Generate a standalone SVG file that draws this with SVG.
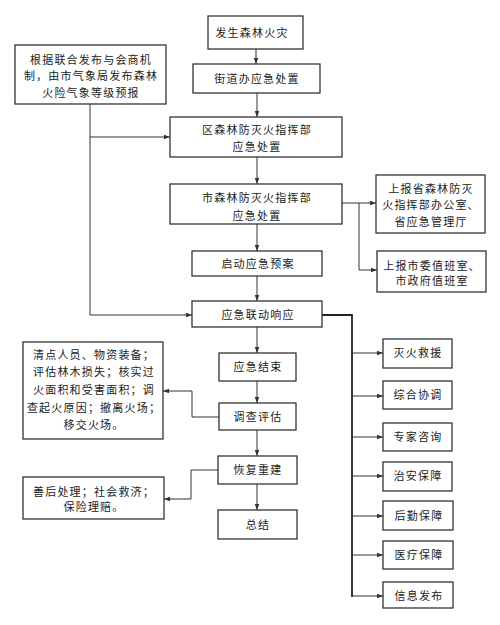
<svg xmlns="http://www.w3.org/2000/svg" width="500" height="625" viewBox="0 0 500 625">
<style>
.b{fill:#fff;stroke:#333;stroke-width:1.3}
.t{font-family:"Noto Sans CJK SC",sans-serif;font-size:11px;fill:#222;text-anchor:middle;letter-spacing:1.2px}
.c{fill:none;stroke:#333;stroke-width:1}
.k{fill:none;stroke:#222;stroke-width:1.8}
</style>
<defs>
<marker id="a" viewBox="0 0 8 8" refX="8" refY="4" markerWidth="6" markerHeight="6" orient="auto" markerUnits="userSpaceOnUse">
<path d="M0,1 L8,4 L0,7 Z" fill="#333"/>
</marker>
</defs>
<rect width="500" height="625" fill="#fff"/>
<g id="connectors">
<path class="c" d="M256,49 V64" marker-end="url(#a)"/>
<path class="c" d="M257,93 V117" marker-end="url(#a)"/>
<path class="c" d="M257,157 V184" marker-end="url(#a)"/>
<path class="c" d="M90,104 V315 H192" marker-end="url(#a)"/>
<path class="c" d="M90,137 H170" marker-end="url(#a)"/>
<path class="c" d="M342,203 H376" marker-end="url(#a)"/>
<path class="c" d="M359,203 V270 H377" marker-end="url(#a)"/>
<path class="c" d="M257,224 V251" marker-end="url(#a)"/>
<path class="c" d="M257,276 V301" marker-end="url(#a)"/>
<path class="k" d="M322,315 H352 V597"/>
<path class="c" d="M352,353 H383" marker-end="url(#a)"/>
<path class="c" d="M352,396 H383" marker-end="url(#a)"/>
<path class="c" d="M352,437 H383" marker-end="url(#a)"/>
<path class="c" d="M352,476 H383" marker-end="url(#a)"/>
<path class="c" d="M352,516 H383" marker-end="url(#a)"/>
<path class="c" d="M352,555 H383" marker-end="url(#a)"/>
<path class="c" d="M352,596 H383" marker-end="url(#a)"/>
<path class="c" d="M257,327 V353" marker-end="url(#a)"/>
<path class="c" d="M257,381 V403" marker-end="url(#a)"/>
<path class="c" d="M257,430 V456" marker-end="url(#a)"/>
<path class="c" d="M257,484 V510" marker-end="url(#a)"/>
<path class="c" d="M219,417 H192 V391 H163" marker-end="url(#a)"/>
<path class="c" d="M218,470 H191 V499 H164" marker-end="url(#a)"/>
</g>
<g id="n1"><rect class="b" x="208" y="16" width="95" height="33"/><text class="t" x="252" y="37">发生森林火灾</text></g>
<g id="n2"><rect class="b" x="193" y="64" width="127" height="29"/><text class="t" x="257" y="83">街道办应急处置</text></g>
<g id="n3"><rect class="b" x="170" y="117" width="172" height="40"/><text class="t" x="257" y="134">区森林防灭火指挥部</text><text class="t" x="257" y="151">应急处置</text></g>
<g id="n4"><rect class="b" x="15" y="45" width="151" height="59"/><text class="t" x="91" y="64">根据联合发布与会商机</text><text class="t" x="91" y="80">制，由市气象局发布森林</text><text class="t" x="91" y="97">火险气象等级预报</text></g>
<g id="n5"><rect class="b" x="170" y="184" width="172" height="40"/><text class="t" x="257" y="202">市森林防灭火指挥部</text><text class="t" x="257" y="220">应急处置</text></g>
<g id="n6"><rect class="b" x="376" y="175" width="109" height="58"/><text class="t" x="431" y="193">上报省森林防灭</text><text class="t" x="431" y="209">火指挥部办公室、</text><text class="t" x="431" y="226">省应急管理厅</text></g>
<g id="n7"><rect class="b" x="377" y="251" width="109" height="41"/><text class="t" x="432" y="270">上报市委值班室、</text><text class="t" x="432" y="285">市政府值班室</text></g>
<g id="n8"><rect class="b" x="192" y="251" width="130" height="25"/><text class="t" x="258" y="268">启动应急预案</text></g>
<g id="n9"><rect class="b" x="192" y="301" width="130" height="26"/><text class="t" x="258" y="319">应急联动响应</text></g>
<g id="n10"><rect class="b" x="219" y="353" width="77" height="28"/><text class="t" x="258" y="371">应急结束</text></g>
<g id="n11"><rect class="b" x="219" y="403" width="77" height="27"/><text class="t" x="258" y="421">调查评估</text></g>
<g id="n12"><rect class="b" x="23" y="342" width="140" height="97"/><text class="t" x="94" y="359">清点人员、物资装备；</text><text class="t" x="94" y="376">评估林木损失；核实过</text><text class="t" x="94" y="394">火面积和受害面积；调</text><text class="t" x="94" y="412">查起火原因；撤离火场；</text><text class="t" x="94" y="429">移交火场。</text></g>
<g id="n13"><rect class="b" x="218" y="456" width="79" height="28"/><text class="t" x="258" y="474">恢复重建</text></g>
<g id="n14"><rect class="b" x="23" y="477" width="141" height="42"/><text class="t" x="94" y="496">善后处理；社会救济；</text><text class="t" x="94" y="511">保险理赔。</text></g>
<g id="n15"><rect class="b" x="218" y="510" width="79" height="29"/><text class="t" x="258" y="529">总结</text></g>
<g id="n16"><rect class="b" x="383" y="339" width="69" height="29"/><text class="t" x="418" y="357">灭火救援</text></g>
<g id="n17"><rect class="b" x="383" y="381" width="69" height="28"/><text class="t" x="418" y="399">综合协调</text></g>
<g id="n18"><rect class="b" x="383" y="423" width="69" height="28"/><text class="t" x="418" y="441">专家咨询</text></g>
<g id="n19"><rect class="b" x="383" y="462" width="69" height="29"/><text class="t" x="418" y="480">治安保障</text></g>
<g id="n20"><rect class="b" x="383" y="501" width="70" height="29"/><text class="t" x="419" y="520">后勤保障</text></g>
<g id="n21"><rect class="b" x="383" y="541" width="70" height="28"/><text class="t" x="419" y="559">医疗保障</text></g>
<g id="n22"><rect class="b" x="383" y="582" width="70" height="26"/><text class="t" x="419" y="600">信息发布</text></g>
</svg>
